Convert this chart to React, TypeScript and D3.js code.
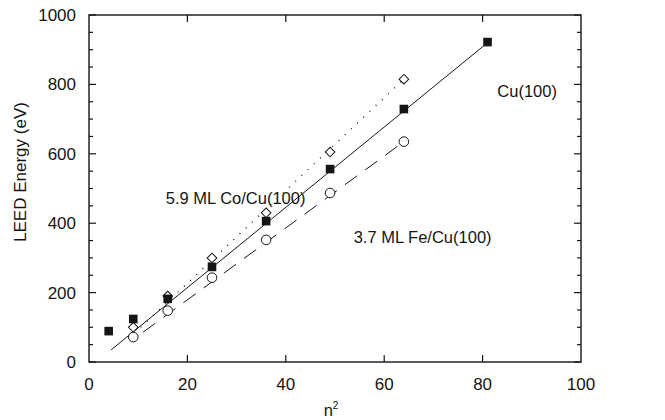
import React from 'react';
import * as d3 from 'd3';

// n^2 values and LEED energies (eV)
const nSqCu = [4, 9, 16, 25, 36, 49, 64, 81];
const energyCu = [89, 124, 182, 274, 406, 556, 729, 922];

const nSqCo = [9, 16, 25, 36, 49, 64];
const energyCo = [100, 190, 300, 430, 605, 815];

const nSqFe = [9, 16, 25, 36, 49, 64];
const energyFe = [72, 148, 243, 352, 487, 635];

// straight-line fits drawn through each set (end points)
const fitCuX = [4.5, 81];
const fitCuY = [35, 920];
const fitCoX = [10.5, 64];
const fitCoY = [100, 815];
const fitFeX = [11, 64];
const fitFeY = [86, 635];

const xTicks = [0, 20, 40, 60, 80, 100];
const yTicks = [0, 200, 400, 600, 800, 1000];
const yMinorTicks = d3.range(0, 1001, 50);

const ink = '#151515';
const font = 'Liberation Sans, Arial, Helvetica, sans-serif';

const App = () => {
  const width = 665;
  const height = 420;
  const margin = { top: 15, right: 84, bottom: 58, left: 89 };
  const innerWidth = width - margin.left - margin.right;
  const innerHeight = height - margin.top - margin.bottom;

  const x = d3.scaleLinear().domain([0, 100]).range([0, innerWidth]);
  const y = d3.scaleLinear().domain([0, 1000]).range([innerHeight, 0]);

  const line = d3.line<[number, number]>().x(d => x(d[0])).y(d => y(d[1]));
  const fitPath = (xs: number[], ys: number[]) =>
    line(xs.map((v, i) => [v, ys[i]] as [number, number])) || '';

  return (
    <svg
      width={width}
      height={height}
      style={{ position: 'absolute', left: 0, top: 0, background: '#fff', fontFamily: font }}
    >
      <g transform={`translate(${margin.left}, ${margin.top})`}>
        {/* frame */}
        <rect x={0} y={0} width={innerWidth} height={innerHeight} fill="none" stroke={ink} strokeWidth={1.4} />

        {/* y ticks, both sides, inward */}
        {yMinorTicks.map(t => {
          const major = t % 200 === 0;
          const len = major ? 7 : 4;
          return (
            <g key={`yt-${t}`}>
              <line x1={0} x2={len} y1={y(t)} y2={y(t)} stroke={ink} strokeWidth={1.2} />
              <line x1={innerWidth} x2={innerWidth - len} y1={y(t)} y2={y(t)} stroke={ink} strokeWidth={1.2} />
            </g>
          );
        })}

        {/* x ticks, top and bottom, inward */}
        {xTicks.slice(1, -1).map(t => (
          <g key={`xt-${t}`}>
            <line x1={x(t)} x2={x(t)} y1={innerHeight} y2={innerHeight - 7} stroke={ink} strokeWidth={1.2} />
            <line x1={x(t)} x2={x(t)} y1={0} y2={7} stroke={ink} strokeWidth={1.2} />
          </g>
        ))}

        {/* y tick labels */}
        {yTicks.map(t => (
          <text key={`yl-${t}`} x={-13} y={y(t) + 6} textAnchor="end" fontSize={17} fill={ink}>
            {t}
          </text>
        ))}

        {/* x tick labels */}
        {xTicks.map(t => (
          <text key={`xl-${t}`} x={x(t)} y={innerHeight + 28} textAnchor="middle" fontSize={17} fill={ink}>
            {t}
          </text>
        ))}

        {/* axis titles */}
        <text x={x(50) - 4} y={innerHeight + 54} textAnchor="middle" fontSize={16.5} fill={ink}>
          n<tspan dy={-7} fontSize={10}>2</tspan>
        </text>
        <text
          transform={`translate(${-63}, ${172 - margin.top}) rotate(-90)`}
          textAnchor="middle"
          fontSize={17}
          fill={ink}
        >
          LEED Energy (eV)
        </text>

        {/* fit lines */}
        <path d={fitPath(fitCuX, fitCuY)} fill="none" stroke={ink} strokeWidth={1} />
        <path d={fitPath(fitCoX, fitCoY)} fill="none" stroke={ink} strokeWidth={1.3} strokeDasharray="1,7.5" />
        <path d={fitPath(fitFeX, fitFeY)} fill="none" stroke={ink} strokeWidth={1} strokeDasharray="15,10" />

        {/* Fe: open circles */}
        {nSqFe.map((n, i) => (
          <circle key={`fe-${i}`} cx={x(n)} cy={y(energyFe[i])} r={4.8} fill="#fff" stroke={ink} strokeWidth={1} />
        ))}

        {/* Co: open diamonds */}
        {nSqCo.map((n, i) => (
          <path
            key={`co-${i}`}
            d={d3.symbol().type(d3.symbolSquare).size(46)() || ''}
            transform={`translate(${x(n)}, ${y(energyCo[i])}) rotate(45)`}
            fill="#fff"
            stroke={ink}
            strokeWidth={1}
          />
        ))}

        {/* Cu: filled squares */}
        {nSqCu.map((n, i) => (
          <rect key={`cu-${i}`} x={x(n) - 4.3} y={y(energyCu[i]) - 4.3} width={8.6} height={8.6} fill={ink} />
        ))}

        {/* labels */}
        <text x={x(83.0)} y={y(765)} fontSize={16.5} fill={ink}>Cu(100)</text>
        <text x={x(15.6)} y={y(455)} fontSize={16.5} fill={ink}>5.9 ML Co/Cu(100)</text>
        <text x={x(53.8)} y={y(342)} fontSize={16.5} fill={ink}>3.7 ML Fe/Cu(100)</text>
      </g>
    </svg>
  );
};

export default App;
